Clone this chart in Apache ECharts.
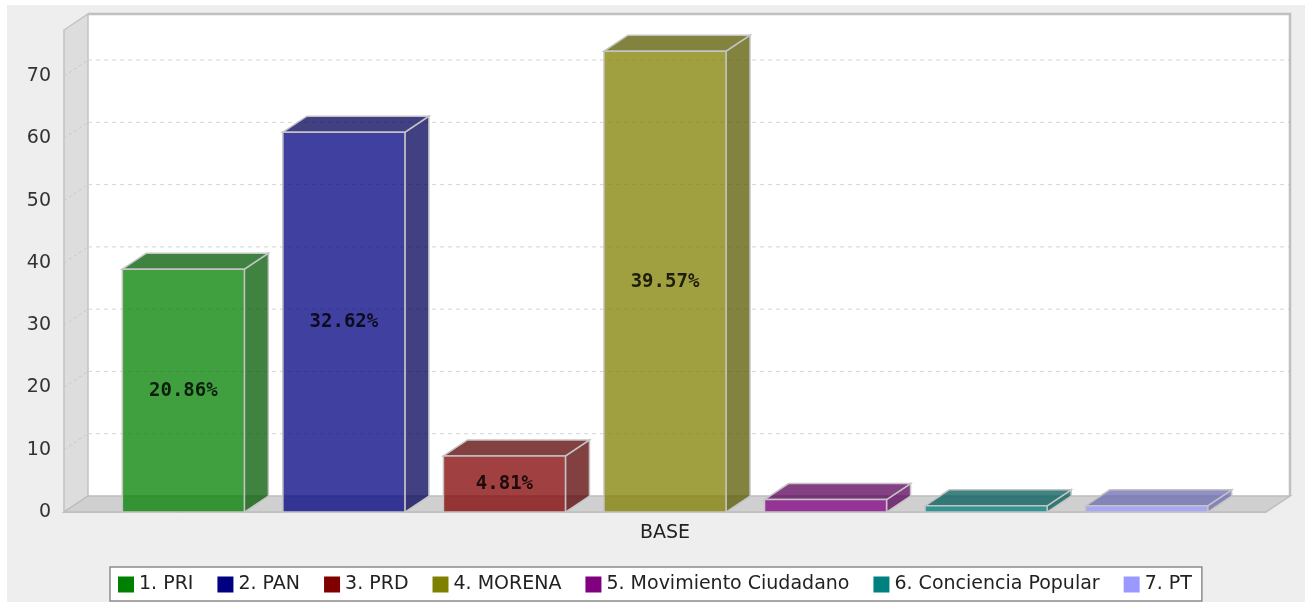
<!DOCTYPE html>
<html><head><meta charset="utf-8">
<script src="https://cdn.jsdelivr.net/npm/echarts@6/dist/echarts.min.js"></script>
<style>html,body{margin:0;padding:0;background:#fff}#c{width:1305px;height:602px}</style>
</head><body><div id="c"></div>
<script>
const category = ['BASE'];
const parties = ['1. PRI', '2. PAN', '3. PRD', '4. MORENA', '5. Movimiento Ciudadano', '6. Conciencia Popular', '7. PT'];
const votes = [39, 61, 9, 74, 2, 1, 1];
const colors = ['#008000', '#000080', '#800000', '#808000', '#800080', '#008080', '#9999FF'];
const yTicks = [0, 10, 20, 30, 40, 50, 60, 70];
const yMax = 77.4;

const total = votes.reduce((a, b) => a + b, 0);
const DX = 24, DY = -16;
const X_MIN = -0.7434, X_MAX = 6.7434, BAR_W = 0.76;
const ALPHA = 0.75;

function rgba(hex, k, a) {
  const n = parseInt(hex.slice(1), 16);
  const r = Math.floor(((n >> 16) & 255) * k), g = Math.floor(((n >> 8) & 255) * k), b = Math.floor((n & 255) * k);
  return 'rgba(' + r + ',' + g + ',' + b + ',' + a + ')';
}

function renderWalls(params, api) {
  const bl = api.coord([X_MIN, 0]);
  const br = api.coord([X_MAX, 0]);
  const tl = api.coord([X_MIN, yMax]);
  const ch = [];
  ch.push({type: 'rect', shape: {x: bl[0] + DX, y: tl[1] + DY, width: br[0] - bl[0], height: bl[1] - tl[1]}, style: {fill: '#ffffff'}});
  ch.push({type: 'polygon', shape: {points: [[tl[0], tl[1]], [tl[0] + DX, tl[1] + DY], [bl[0] + DX, bl[1] + DY], [bl[0], bl[1]]]},
    style: {fill: '#DDDDDD', stroke: '#C2C2C2', lineWidth: 1.5}});
  ch.push({type: 'polygon', shape: {points: [[bl[0], bl[1]], [bl[0] + DX, bl[1] + DY], [br[0] + DX, br[1] + DY], [br[0], br[1]]]},
    style: {fill: '#D0D0D0', stroke: '#BDBDBD', lineWidth: 1.5}});
  yTicks.forEach(v => {
    if (v === 0) return;
    const p = api.coord([X_MIN, v]);
    ch.push({type: 'line', shape: {x1: p[0] + DX, y1: p[1] + DY, x2: br[0] + DX, y2: p[1] + DY},
      style: {stroke: '#D4D4D4', lineDash: [4, 4], lineWidth: 1}});
    ch.push({type: 'line', shape: {x1: p[0], y1: p[1], x2: p[0] + DX, y2: p[1] + DY},
      style: {stroke: '#C8C8C8', lineDash: [3, 3], lineWidth: 1}});
  });
  ch.push({type: 'polyline', shape: {points: [[tl[0] + DX, tl[1] + DY], [br[0] + DX, tl[1] + DY], [br[0] + DX, br[1] + DY]]},
    style: {stroke: '#C0C0C0', lineWidth: 2.5, fill: null}});
  return {type: 'group', children: ch};
}

function makeBarRenderer(idx) {
  return function (params, api) {
    const x = api.value(0), v = api.value(1);
    const p0 = api.coord([x, 0]);
    const p1 = api.coord([x, v]);
    const hw = api.size([BAR_W, 0])[0] / 2;
    const l = p0[0] - hw, r = p0[0] + hw, top = p1[1], bot = p0[1];
    const c = colors[idx];
    const st = {stroke: '#C4C4C4', lineWidth: 1.5};
    const ch = [
      {type: 'polygon', shape: {points: [[r, top], [r + DX, top + DY], [r + DX, bot + DY], [r, bot]]},
        style: Object.assign({fill: rgba(c, 0.7, ALPHA)}, st)},
      {type: 'polygon', shape: {points: [[l, top], [l + DX, top + DY], [r + DX, top + DY], [r, top]]},
        style: Object.assign({fill: rgba(c, 0.7, ALPHA)}, st)},
      {type: 'rect', shape: {x: l, y: top, width: r - l, height: bot - top},
        style: Object.assign({fill: rgba(c, 1, ALPHA)}, st)}
    ];
    if (bot - top > 20) {
      ch.push({type: 'text', x: p0[0], y: (top + bot) / 2,
        style: {text: (v / total * 100).toFixed(2) + '%', fill: 'rgba(0,0,0,0.82)',
          font: 'bold 19px "DejaVu Sans Mono", monospace', align: 'center', verticalAlign: 'middle'}});
    }
    return {type: 'group', children: ch};
  };
}

const series = [{
  type: 'custom', name: '_walls', silent: true, z: 1, clip: false,
  xAxisIndex: 0, yAxisIndex: 0, data: [[0, 0]], renderItem: renderWalls
}];
parties.forEach((name, i) => {
  series.push({
    type: 'custom', name: name, z: 3, clip: false, xAxisIndex: 0, yAxisIndex: 0,
    itemStyle: {color: colors[i]},
    data: [[i, votes[i]]], renderItem: makeBarRenderer(i)
  });
});

const chart = echarts.init(document.getElementById('c'), null, {renderer: 'canvas'});
chart.setOption({
  animation: false,
  backgroundColor: '#EEEEEE',
  graphic: [
    {type: 'rect', shape: {x: 0, y: 0, width: 1305, height: 5}, style: {fill: '#ffffff'}, silent: true},
    {type: 'rect', shape: {x: 0, y: 0, width: 7, height: 602}, style: {fill: '#ffffff'}, silent: true}
  ],
  grid: {left: 64, right: 39, top: 30, bottom: 90},
  xAxis: [
    {type: 'value', min: X_MIN, max: X_MAX, show: false},
    {type: 'category', data: category, position: 'bottom',
      axisLine: {show: true, lineStyle: {color: '#BDBDBD', width: 1.5}},
      axisTick: {show: false},
      axisLabel: {fontSize: 19, color: '#222', margin: 12, fontFamily: 'DejaVu Sans'}}
  ],
  yAxis: {
    type: 'value', min: 0, max: yMax, interval: 10,
    splitLine: {show: false},
    axisLine: {show: true, lineStyle: {color: '#B0B0B0', width: 1.5}},
    axisTick: {show: true, length: 5, lineStyle: {color: '#999'}, customValues: yTicks},
    axisLabel: {fontSize: 19, color: '#333', margin: 13, fontFamily: 'DejaVu Sans', customValues: yTicks}
  },
  legend: {
    data: parties, left: 110, top: 567, icon: 'rect', itemWidth: 16, itemHeight: 16, itemGap: 24,
    padding: [8, 10, 7, 8], backgroundColor: '#ffffff', borderColor: '#8C8C8C', borderWidth: 1.5, borderRadius: 0,
    textStyle: {fontSize: 19, color: '#222', fontFamily: 'DejaVu Sans'}
  },
  series: series
});
</script></body></html>
